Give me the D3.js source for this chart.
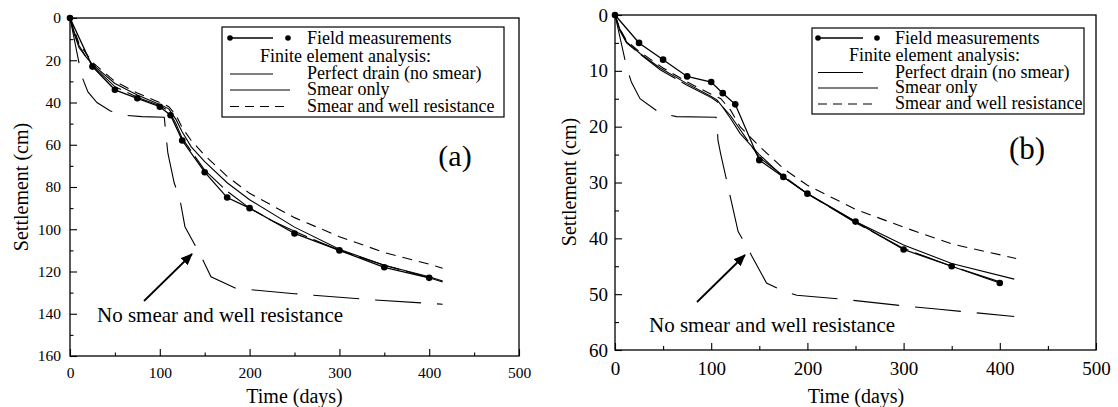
<!DOCTYPE html>
<html>
<head>
<meta charset="utf-8">
<script src="https://cdn.jsdelivr.net/npm/d3@7"></script>
<style>
  html, body { margin: 0; padding: 0; background: #fff; }
  svg { display: block; }
</style>
</head>
<body>
<svg id="chart" width="1118" height="407" font-family="Liberation Serif"></svg>
<script>
// ---------- DATA ----------
const xTicksMajor = [0, 100, 200, 300, 400, 500];
const yTicksA = [0, 20, 40, 60, 80, 100, 120, 140, 160];
const yTicksB = [0, 10, 20, 30, 40, 50, 60];

const fieldTimes = [0, 25, 50, 75, 100, 112, 125, 150, 175, 200, 250, 300, 350, 400];
const fieldA = [0, 23, 34, 38, 42, 46, 58, 73, 85, 90, 102, 110, 118, 123];
const fieldB = [0, 5, 8, 11, 12, 14, 16, 26, 29, 32, 37, 42, 45, 48];

// [time (days), settlement (cm)]
const perfectA = [[0,0],[5,8],[10,14],[25,22.5],[50,32.5],[75,37.5],[100,41.5],[110,44],[118,50],[125,57],[135,63],[150,72],[175,82],[200,90],[225,96],[250,101],[300,110],[350,117],[400,123],[415,125]];
const smearOnlyA = [[0,0],[5,7],[10,13],[18,18.5],[25,22],[50,31],[75,36.5],[100,41],[110,43],[118,48],[125,54],[135,61],[150,68],[175,78],[200,86],[250,99],[300,109.5],[350,117],[400,122.5],[415,124.5]];
const smearWellA = [[0,0],[5,6],[10,12],[25,21],[50,30],[75,35.5],[100,40],[110,42],[118,46],[125,52],[135,58],[150,65],[175,75],[200,83],[250,94.5],[300,103.5],[350,111],[400,116.5],[415,118.5]];
const noSmearA = [[0,0],[13,27.5],[20,35],[30,40],[45,44],[60,46],[80,46.7],[105,47],[107,56],[109,64],[116,78],[122.5,86],[128,98.8],[145,112],[157,122.5],[185,128],[250,130.5],[330,133.2],[415,135.5]];

const perfectB = [[0,0],[5,2.8],[12,5],[26,7],[47,9.8],[74,12.5],[100,14.8],[106,15.5],[112,16.5],[120,18],[130,20.5],[150,25.5],[175,28.8],[200,32],[250,37.2],[300,41.8],[350,45],[400,47.8]];
const smearOnlyB = [[0,0],[5,2.5],[12,4.8],[26,6.9],[47,9.5],[74,12.2],[100,14.6],[106,15.2],[112,16.5],[120,18.5],[130,21.2],[150,25],[175,29],[200,32],[250,37],[300,41.2],[350,44.5],[415,47.3]];
const smearWellB = [[0,0],[5,2.5],[12,4.6],[25,6.5],[50,9.5],[75,12],[100,14.2],[110,15],[120,17],[130,20],[150,23.5],[175,27.5],[200,30.5],[250,34.8],[300,38],[350,41],[417,43.6]];
const noSmearB = [[0,0],[12,9.3],[17,12],[26,15],[47,17.6],[64,18.2],[105,18.3],[106,18.8],[107,22.4],[110,25],[116,29.6],[128,38.8],[135,40.9],[157.5,48],[173,49.3],[189,50.2],[237,50.9],[300,52.1],[337,52.7],[415,54]];

const legendLabels = ["Field measurements", "Finite element analysis:", "Perfect drain (no smear)", "Smear only", "Smear and well resistance"];
const annotationText = "No smear and well resistance";
const xTitle = "Time (days)";
const yTitle = "Settlement (cm)";

// ---------- STYLE ----------
const serif = "Liberation Serif";
const dashPerfect = "42,7";
const dashSmearWell = "10,7";
const dashNoSmear = "46,16";

const svg = d3.select("#chart");
svg.append("defs").append("marker")
  .attr("id", "arrowhead").attr("viewBox", "0 0 12 10")
  .attr("refX", 11).attr("refY", 5)
  .attr("markerWidth", 12).attr("markerHeight", 10)
  .attr("markerUnits", "userSpaceOnUse").attr("orient", "auto")
  .append("path").attr("d", "M0,0 L12,5 L0,10 Z").attr("fill", "#000");

function txt(sel) { return sel.attr("font-family", serif).attr("fill", "#000"); }

function drawPanel(p) {
  const g = svg.append("g").attr("font-family", serif);
  const x = d3.scaleLinear().domain([0, 500]).range([p.x0, p.x1]);
  const y = d3.scaleLinear().domain([0, p.ymax]).range([p.y0, p.y1]);

  // minor ticks
  const xMinor = d3.range(50, 500, 100);
  g.append("g").attr("transform", `translate(0,${p.y1})`)
    .call(d3.axisBottom(x).tickValues(xMinor).tickSize(-p.minor).tickFormat(""))
    .call(s => s.select(".domain").remove());
  const yMinor = d3.range(p.yStep / 2, p.ymax, p.yStep);
  g.append("g").attr("transform", `translate(${p.x0},0)`)
    .call(d3.axisLeft(y).tickValues(yMinor).tickSize(-p.minor).tickFormat(""))
    .call(s => s.select(".domain").remove());

  // major ticks
  const xa = g.append("g").attr("transform", `translate(0,${p.y1})`)
    .call(d3.axisBottom(x).tickValues(xTicksMajor).tickSize(-p.major).tickSizeOuter(0).tickPadding(p.xPad).tickFormat(d3.format("d")));
  xa.attr("font-family", serif).attr("font-size", p.tickFont);
  xa.select(".domain").remove();
  txt(xa.selectAll("text"));
  const ya = g.append("g").attr("transform", `translate(${p.x0},0)`)
    .call(d3.axisLeft(y).tickValues(p.yTicks).tickSize(-p.major).tickSizeOuter(0).tickPadding(p.yPad).tickFormat(d3.format("d")));
  ya.attr("font-family", serif).attr("font-size", p.tickFont);
  ya.select(".domain").remove();
  txt(ya.selectAll("text"));
  g.selectAll(".tick line").attr("stroke", "#000").attr("stroke-width", 1.1);

  // frame
  g.append("rect").attr("x", p.x0).attr("y", p.y0)
    .attr("width", p.x1 - p.x0).attr("height", p.y1 - p.y0)
    .attr("fill", "none").attr("stroke", "#000").attr("stroke-width", 1.3);

  const line = d3.line().x(d => x(d[0])).y(d => y(d[1]));
  const curves = [
    { data: p.noSmear, dash: dashNoSmear, w: 1.1 },
    { data: p.smearWell, dash: dashSmearWell, w: 1.1 },
    { data: p.perfect, dash: dashPerfect, w: 1.1 },
    { data: p.smearOnly, dash: null, w: 1.1 }
  ];
  curves.forEach(c => {
    g.append("path").attr("d", line(c.data)).attr("fill", "none")
      .attr("stroke", "#000").attr("stroke-width", c.w)
      .attr("stroke-dasharray", c.dash);
  });
  const field = fieldTimes.map((t, i) => [t, p.field[i]]);
  g.append("path").attr("d", line(field)).attr("fill", "none")
    .attr("stroke", "#000").attr("stroke-width", 1.3);
  g.selectAll("circle.f").data(field).join("circle").attr("class", "f")
    .attr("cx", d => x(d[0])).attr("cy", d => y(d[1])).attr("r", 3.3).attr("fill", "#000");

  // legend
  const L = p.legend;
  g.append("rect").attr("x", L.x0).attr("y", L.y0).attr("width", L.x1 - L.x0).attr("height", L.y1 - L.y0)
    .attr("fill", "#fff").attr("stroke", "#000").attr("stroke-width", 1.2);
  const rows = L.rows;
  g.append("line").attr("x1", L.sx).attr("x2", L.sx + L.fieldLine).attr("y1", rows[0]).attr("y2", rows[0]).attr("stroke", "#000").attr("stroke-width", 1.3);
  g.append("circle").attr("cx", L.sx).attr("cy", rows[0]).attr("r", 2.8).attr("fill", "#000");
  g.append("circle").attr("cx", L.sx + L.fieldDot).attr("cy", rows[0]).attr("r", 2.8).attr("fill", "#000");
  const sampleLines = [
    { row: 2, len: L.fieldLine, dash: null },
    { row: 3, len: L.smearLen, dash: null },
    { row: 4, len: L.dashLen, dash: "9,6" }
  ];
  sampleLines.forEach(s => {
    g.append("line").attr("x1", L.sx).attr("x2", L.sx + s.len).attr("y1", rows[s.row] + 1).attr("y2", rows[s.row] + 1)
      .attr("stroke", "#000").attr("stroke-width", 1.1).attr("stroke-dasharray", s.dash);
  });
  legendLabels.forEach((t, i) => {
    txt(g.append("text")).attr("x", i === 1 ? L.tx2 : L.tx).attr("y", rows[i] + 6)
      .attr("font-size", L.font).text(t);
  });

  // panel letter
  txt(g.append("text")).attr("x", p.letter.x).attr("y", p.letter.y).attr("text-anchor", "middle")
    .attr("font-size", p.letter.size).text(p.letter.t);

  // annotation + arrow
  g.append("line").attr("x1", p.arrow[0]).attr("y1", p.arrow[1]).attr("x2", p.arrow[2]).attr("y2", p.arrow[3])
    .attr("stroke", "#000").attr("stroke-width", 1.8).attr("marker-end", "url(#arrowhead)");
  txt(g.append("text")).attr("x", p.ann.x).attr("y", p.ann.y).attr("font-size", 21).text(annotationText);

  // axis titles
  txt(g.append("text")).attr("x", p.xTitle.x).attr("y", p.xTitle.y).attr("text-anchor", "middle")
    .attr("font-size", 20).text(xTitle);
  txt(g.append("text")).attr("transform", `translate(${p.yTitle.x},${p.yTitle.y}) rotate(-90)`)
    .attr("text-anchor", "middle").attr("dy", "0.32em").attr("font-size", 20).text(yTitle);
}

drawPanel({
  x0: 70, x1: 519, y0: 18, y1: 356, ymax: 160, yStep: 20, yTicks: yTicksA,
  major: 7, minor: 3.5, xPad: 11, yPad: 9, tickFont: 15.5,
  field: fieldA, perfect: perfectA, smearOnly: smearOnlyA, smearWell: smearWellA, noSmear: noSmearA,
  legend: { x0: 222, x1: 504, y0: 27, y1: 117, rows: [38, 55.5, 73, 89, 105.5], sx: 230, fieldLine: 43, fieldDot: 58, smearLen: 60, dashLen: 55, tx: 307, tx2: 260, font: 18 },
  letter: { x: 455, y: 166, size: 30, t: "(a)" },
  arrow: [144, 301, 192, 254],
  ann: { x: 97, y: 322 },
  xTitle: { x: 294.5, y: 403 },
  yTitle: { x: 22, y: 187 }
});

drawPanel({
  x0: 615, x1: 1096, y0: 15, y1: 350, ymax: 60, yStep: 10, yTicks: yTicksB,
  major: 7, minor: 4, xPad: 12, yPad: 7, tickFont: 19,
  field: fieldB, perfect: perfectB, smearOnly: smearOnlyB, smearWell: smearWellB, noSmear: noSmearB,
  legend: { x0: 812, x1: 1084, y0: 28, y1: 114, rows: [38, 55, 71.5, 87, 103], sx: 818, fieldLine: 45, fieldDot: 59, smearLen: 60, dashLen: 57, tx: 895, tx2: 849, font: 18 },
  letter: { x: 1027, y: 159, size: 31, t: "(b)" },
  arrow: [697, 302, 745, 255],
  ann: { x: 649, y: 332 },
  xTitle: { x: 856, y: 403 },
  yTitle: { x: 570, y: 182 }
});
</script>
</body>
</html>
